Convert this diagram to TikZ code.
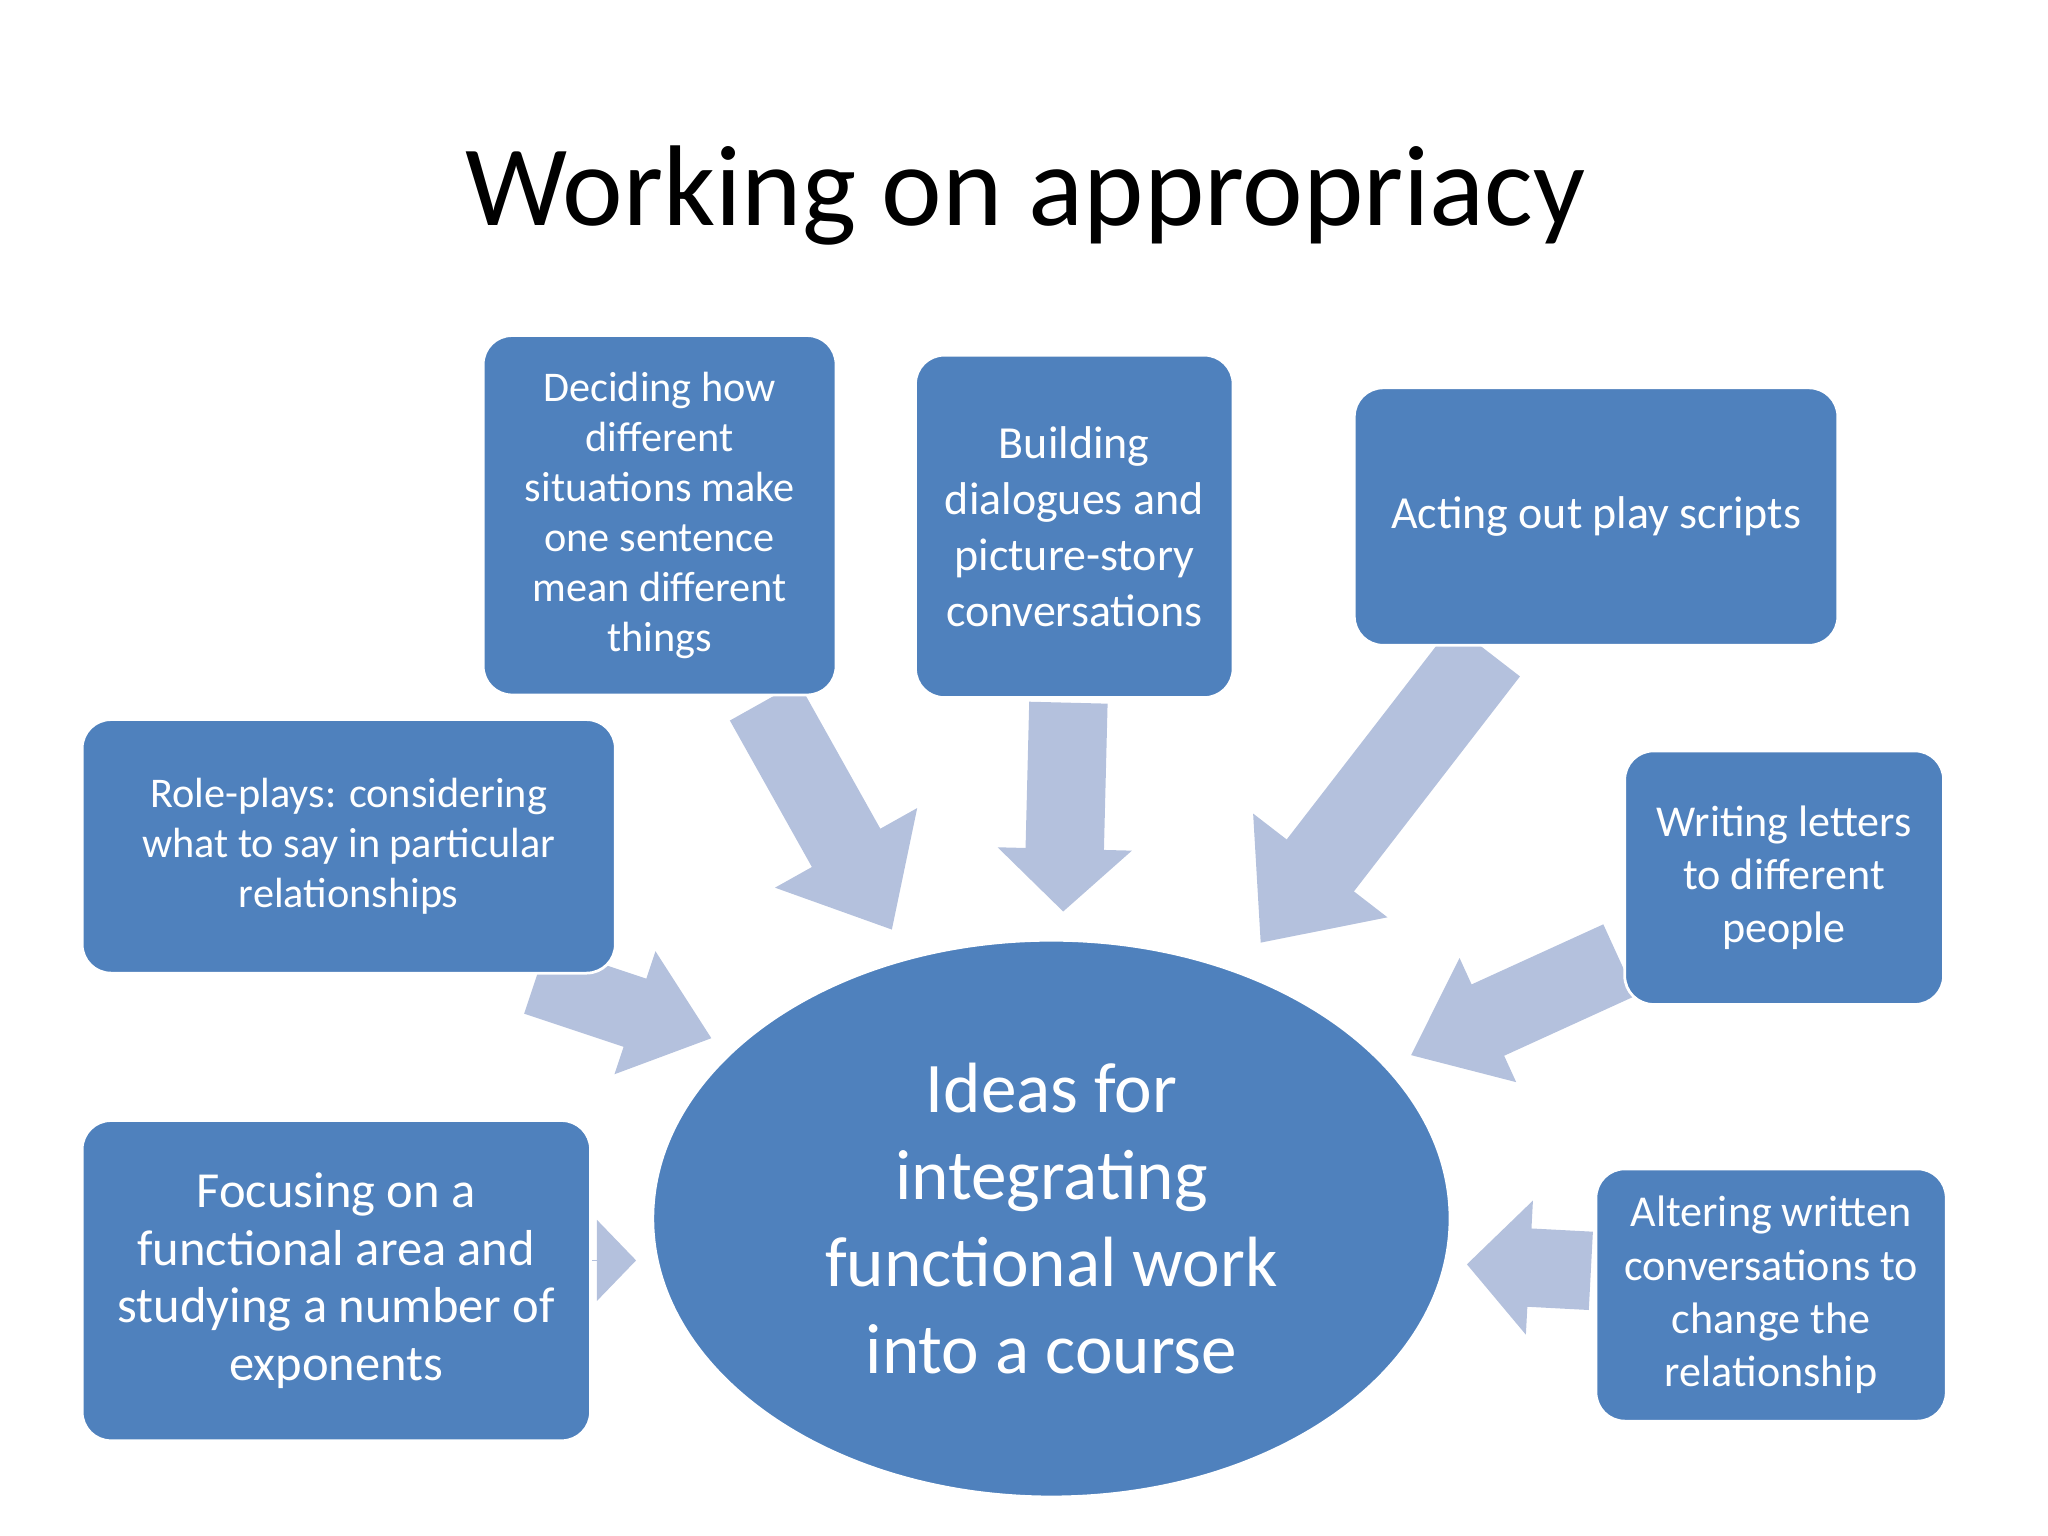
\documentclass[tikz,border=0pt]{standalone}
\usepackage{fontspec}
\setmainfont{Carlito}
\usetikzlibrary{arrows.meta,shapes.geometric}
\definecolor{boxblue}{HTML}{4F81BD}
\definecolor{arrowblue}{HTML}{B4C1DD}
\begin{document}
\begin{tikzpicture}[x=0.01cm,y=-0.01cm,
  box/.style={draw=white,line width=0.6pt,fill=boxblue,rounded corners=0.22cm,text=white,align=center,font=\fontsize{9.2}{10.9}\selectfont,inner sep=0pt},
  barrow/.style={draw=arrowblue,line width=#1,line cap=butt},
]
\useasboundingbox (0,0) rectangle (1568,1176);
\node (title) at (785,150) {\fontsize{25}{30}\selectfont Working on appropriacy};
% coordinates for arrows
\coordinate (a1s) at (585,537); \coordinate (a1e) at (683,712);
\coordinate (a2s) at (818,538); \coordinate (a2e) at (814,698);
\coordinate (a3s) at (1138,498); \coordinate (a3e) at (965,722);
\coordinate (a4s) at (1240,735); \coordinate (a4e) at (1080,808);
\coordinate (a5s) at (1218,973); \coordinate (a5e) at (1123,968);
\coordinate (a6s) at (452,965); \coordinate (a6e) at (487,965);
\coordinate (a7s) at (410,750); \coordinate (a7e) at (545,795);
\draw[barrow=0.6cm,-{Triangle[width=1.2cm,length=0.72cm]}] (a1s) -- (a1e);
\draw[barrow=0.6cm,-{Triangle[width=1.0cm,length=0.48cm]}] (a2s) -- (a2e);
\draw[barrow=0.65cm,-{Triangle[width=1.25cm,length=0.75cm]}] (a3s) -- (a3e);
\draw[barrow=0.6cm,-{Triangle[width=1.0cm,length=0.65cm]}] (a4s) -- (a4e);
\draw[barrow=0.6cm,-{Triangle[width=1.0cm,length=0.48cm]}] (a5s) -- (a5e);
\draw[barrow=0.01cm,-{Triangle[width=0.62cm,length=0.3cm]}] (a6s) -- (a6e);
\draw[barrow=0.55cm,-{Triangle[width=0.95cm,length=0.62cm]}] (a7s) -- (a7e);
% nodes
\node[box,minimum width=2.7cm,minimum height=2.75cm] (decide) at (505,394.5) {Deciding how\\different\\situations make\\one sentence\\mean different\\things};
\node[box,minimum width=2.43cm,minimum height=2.62cm,font=\fontsize{10}{12.2}\selectfont] (build) at (822.5,403) {Building\\dialogues and\\picture-story\\conversations};
\node[box,minimum width=3.7cm,minimum height=1.97cm,font=\fontsize{10}{12.2}\selectfont] (act) at (1222,395.5) {Acting out play scripts};
\node[box,minimum width=4.08cm,minimum height=1.94cm] (role) at (267,648) {Role-plays: considering\\what to say in particular\\relationships};
\node[box,minimum width=2.44cm,minimum height=1.94cm,font=\fontsize{9.6}{11.6}\selectfont] (write) at (1366,672) {Writing letters\\to different\\people};
\node[box,minimum width=3.89cm,minimum height=2.45cm,font=\fontsize{11}{12.6}\selectfont] (focus) at (257.5,980.5) {Focusing on a\\functional area and\\studying a number of\\exponents};
\node[box,minimum width=2.68cm,minimum height=1.93cm,font=\fontsize{9.6}{11.6}\selectfont] (alter) at (1356,991.5) {Altering written\\conversations to\\change the\\relationship};
\node[draw=white,line width=0.6pt,fill=boxblue,ellipse,minimum width=6.1cm,minimum height=4.26cm,inner sep=0pt,text=white,align=center,font=\fontsize{15.5}{19}\selectfont] (centre) at (805,933) {Ideas for\\integrating\\functional work\\into a course};
\end{tikzpicture}
\end{document}
